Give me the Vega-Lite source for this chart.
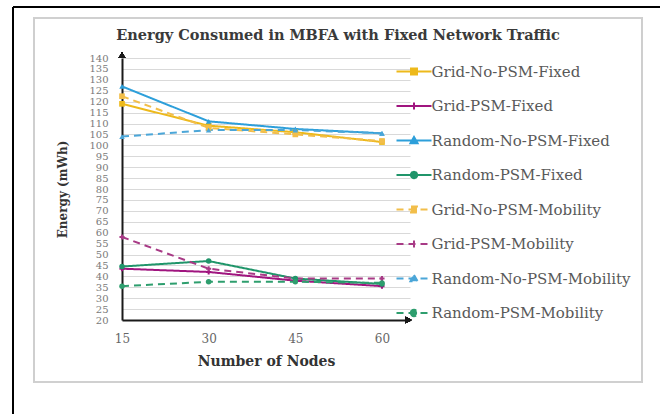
{
  "$schema": "https://vega.github.io/schema/vega-lite/v6.json",
  "width": 288,
  "height": 262,
  "autosize": {"type": "none"},
  "padding": {"left": 122, "top": 58, "right": 250, "bottom": 94},
  "background": "white",
  "config": {
    "view": {"stroke": null},
    "font": "DejaVu Serif",
    "axisX": {
      "titleFont": "DejaVu Serif", "titleFontSize": 14, "titleFontWeight": "bold", "titleColor": "#333333",
      "titlePadding": 10,
      "labelFont": "DejaVu Serif", "labelFontSize": 12, "labelColor": "#666666",
      "labelPadding": 13, "labelFlush": false,
      "ticks": false, "grid": false,
      "domainColor": "#1a1a1a", "domainWidth": 2
    },
    "axisY": {
      "tickCount": 24,
      "titleFont": "DejaVu Serif", "titleFontSize": 12, "titleFontWeight": "bold", "titleColor": "#333333",
      "titlePadding": 19,
      "labelFont": "DejaVu Serif", "labelFontSize": 10, "labelColor": "#7a7a7a",
      "labelPadding": 14, "labelOverlap": false, "labelFlush": false,
      "ticks": false,
      "grid": true, "gridColor": "#d9d9d9", "gridWidth": 1,
      "domainColor": "#1a1a1a", "domainWidth": 2
    },
    "legend": {
      "direction": "vertical",
      "padding": 0,
      "rowPadding": 7.5,
      "labelFont": "DejaVu Serif",
      "labelFontSize": 15,
      "labelColor": "#595959",
      "labelOffset": -1,
      "labelLimit": 300,
      "symbolSize": 1225,
      "symbolStrokeWidth": 2,
      "symbolOpacity": 1
    }
  },
  "title": {
    "text": "Energy Consumed in MBFA with Fixed Network Traffic",
    "font": "DejaVu Serif",
    "fontSize": 14.5,
    "fontWeight": "bold",
    "color": "#3a3a3a",
    "anchor": "middle",
    "frame": "group",
    "dx": 72,
    "offset": -37
  },
  "data": {
    "values": [
      {"series": "Grid-No-PSM-Fixed", "nodes": 15, "energy": 119},
      {"series": "Grid-No-PSM-Fixed", "nodes": 30, "energy": 109},
      {"series": "Grid-No-PSM-Fixed", "nodes": 45, "energy": 106},
      {"series": "Grid-No-PSM-Fixed", "nodes": 60, "energy": 101.5},
      {"series": "Grid-PSM-Fixed", "nodes": 15, "energy": 43.5},
      {"series": "Grid-PSM-Fixed", "nodes": 30, "energy": 42},
      {"series": "Grid-PSM-Fixed", "nodes": 45, "energy": 38},
      {"series": "Grid-PSM-Fixed", "nodes": 60, "energy": 35.5},
      {"series": "Random-No-PSM-Fixed", "nodes": 15, "energy": 127},
      {"series": "Random-No-PSM-Fixed", "nodes": 30, "energy": 111},
      {"series": "Random-No-PSM-Fixed", "nodes": 45, "energy": 107.5},
      {"series": "Random-No-PSM-Fixed", "nodes": 60, "energy": 105.5},
      {"series": "Random-PSM-Fixed", "nodes": 15, "energy": 44.5},
      {"series": "Random-PSM-Fixed", "nodes": 30, "energy": 47},
      {"series": "Random-PSM-Fixed", "nodes": 45, "energy": 39},
      {"series": "Random-PSM-Fixed", "nodes": 60, "energy": 36.5},
      {"series": "Grid-No-PSM-Mobility", "nodes": 15, "energy": 122.5},
      {"series": "Grid-No-PSM-Mobility", "nodes": 30, "energy": 108},
      {"series": "Grid-No-PSM-Mobility", "nodes": 45, "energy": 105},
      {"series": "Grid-No-PSM-Mobility", "nodes": 60, "energy": 102},
      {"series": "Grid-PSM-Mobility", "nodes": 15, "energy": 58},
      {"series": "Grid-PSM-Mobility", "nodes": 30, "energy": 43.5},
      {"series": "Grid-PSM-Mobility", "nodes": 45, "energy": 39},
      {"series": "Grid-PSM-Mobility", "nodes": 60, "energy": 39},
      {"series": "Random-No-PSM-Mobility", "nodes": 15, "energy": 104},
      {"series": "Random-No-PSM-Mobility", "nodes": 30, "energy": 107},
      {"series": "Random-No-PSM-Mobility", "nodes": 45, "energy": 107},
      {"series": "Random-No-PSM-Mobility", "nodes": 60, "energy": 105.5},
      {"series": "Random-PSM-Mobility", "nodes": 15, "energy": 35.5},
      {"series": "Random-PSM-Mobility", "nodes": 30, "energy": 37.5},
      {"series": "Random-PSM-Mobility", "nodes": 45, "energy": 37.5},
      {"series": "Random-PSM-Mobility", "nodes": 60, "energy": 37}
    ]
  },
  "layer": [
    {
      "mark": {"type": "rect", "filled": false, "stroke": "#cfcfcf", "strokeWidth": 1.5},
      "encoding": {
        "x": {"datum": -0.23, "type": "quantitative"},
        "x2": {"datum": 105},
        "y": {"datum": 158.3, "type": "quantitative"},
        "y2": {"datum": -8.4}
      }
    },
    {
      "mark": {"type": "rule", "stroke": "black", "strokeWidth": 1.5},
      "encoding": {
        "x": {"datum": -3.87, "type": "quantitative"},
        "y": {"datum": 163.4, "type": "quantitative"},
        "y2": {"datum": -25}
      }
    },
    {
      "mark": {"type": "rule", "stroke": "black", "strokeWidth": 1.5},
      "encoding": {
        "x": {"datum": -3.87, "type": "quantitative"},
        "x2": {"datum": 110},
        "y": {"datum": 163.4, "type": "quantitative"}
      }
    },
    {
      "mark": {"type": "line", "strokeWidth": 2, "opacity": 1},
      "encoding": {
        "x": {
          "field": "nodes", "type": "quantitative", "title": "Number of Nodes",
          "scale": {"domain": [15, 64.85], "nice": false, "zero": false},
          "axis": {"values": [15, 30, 45, 60]}
        },
        "y": {
          "field": "energy", "type": "quantitative", "title": "Energy (mWh)",
          "scale": {"domain": [20, 140], "nice": false, "zero": false}
        },
        "color": {
          "field": "series", "type": "nominal", "title": null,
          "scale": {
            "domain": ["Grid-No-PSM-Fixed", "Grid-PSM-Fixed", "Random-No-PSM-Fixed", "Random-PSM-Fixed", "Grid-No-PSM-Mobility", "Grid-PSM-Mobility", "Random-No-PSM-Mobility", "Random-PSM-Mobility"],
            "range": ["#EDB91B", "#A0157F", "#2D9FDA", "#20956A", "#F2BE4A", "#A83A86", "#4BA6D8", "#2E9E6E"]
          },
          "legend": {"orient": "none", "legendX": 273.5, "legendY": -5, "title": null}
        },
        "strokeDash": {
          "field": "series", "type": "nominal", "title": null,
          "scale": {
            "domain": ["Grid-No-PSM-Fixed", "Grid-PSM-Fixed", "Random-No-PSM-Fixed", "Random-PSM-Fixed", "Grid-No-PSM-Mobility", "Grid-PSM-Mobility", "Random-No-PSM-Mobility", "Random-PSM-Mobility"],
            "range": [[1, 0], [1, 0], [1, 0], [1, 0], [7, 5], [7, 5], [7, 5], [7, 5]]
          }
        },
        "detail": {"field": "series"}
      }
    },
    {
      "transform": [{"filter": {"field": "series", "oneOf": ["Grid-No-PSM-Fixed", "Grid-No-PSM-Mobility"]}}],
      "mark": {"type": "point", "shape": "square", "filled": true, "size": 32, "opacity": 1},
      "encoding": {
        "x": {"field": "nodes", "type": "quantitative"},
        "y": {"field": "energy", "type": "quantitative"},
        "color": {"field": "series", "type": "nominal", "title": null}
      }
    },
    {
      "transform": [{"filter": {"field": "series", "oneOf": ["Grid-PSM-Fixed", "Grid-PSM-Mobility"]}}],
      "mark": {"type": "point", "shape": "cross", "filled": true, "size": 26, "opacity": 1},
      "encoding": {
        "x": {"field": "nodes", "type": "quantitative"},
        "y": {"field": "energy", "type": "quantitative"},
        "color": {"field": "series", "type": "nominal", "title": null}
      }
    },
    {
      "transform": [{"filter": {"field": "series", "oneOf": ["Random-No-PSM-Fixed", "Random-No-PSM-Mobility"]}}],
      "mark": {"type": "point", "shape": "triangle-up", "filled": true, "size": 30, "opacity": 1},
      "encoding": {
        "x": {"field": "nodes", "type": "quantitative"},
        "y": {"field": "energy", "type": "quantitative"},
        "color": {"field": "series", "type": "nominal", "title": null}
      }
    },
    {
      "transform": [{"filter": {"field": "series", "oneOf": ["Random-PSM-Fixed", "Random-PSM-Mobility"]}}],
      "mark": {"type": "point", "shape": "circle", "filled": true, "size": 30, "opacity": 1},
      "encoding": {
        "x": {"field": "nodes", "type": "quantitative"},
        "y": {"field": "energy", "type": "quantitative"},
        "color": {"field": "series", "type": "nominal", "title": null}
      }
    },
    {
      "mark": {"type": "point", "filled": true, "size": 0, "opacity": 1},
      "encoding": {
        "x": {"field": "nodes", "type": "quantitative"},
        "y": {"field": "energy", "type": "quantitative"},
        "color": {"field": "series", "type": "nominal", "title": null},
        "shape": {
          "field": "series", "type": "nominal", "title": null,
          "scale": {
            "domain": ["Grid-No-PSM-Fixed", "Grid-PSM-Fixed", "Random-No-PSM-Fixed", "Random-PSM-Fixed", "Grid-No-PSM-Mobility", "Grid-PSM-Mobility", "Random-No-PSM-Mobility", "Random-PSM-Mobility"],
            "range": [
              "M-1,0H1M-0.17,-0.17H0.17V0.17H-0.17Z",
              "M-1,0H1M0,-0.2V0.2",
              "M-1,0H1M0,-0.2L0.2,0.15L-0.2,0.15Z",
              "M-1,0H1M-0.18,0A0.18,0.18,0,1,0,0.18,0A0.18,0.18,0,1,0,-0.18,0Z",
              "M-1,0H1M-0.17,-0.17H0.17V0.17H-0.17Z",
              "M-1,0H1M0,-0.2V0.2",
              "M-1,0H1M0,-0.2L0.2,0.15L-0.2,0.15Z",
              "M-1,0H1M-0.18,0A0.18,0.18,0,1,0,0.18,0A0.18,0.18,0,1,0,-0.18,0Z"
            ]
          }
        }
      }
    },
    {
      "mark": {"type": "point", "shape": "triangle-up", "filled": true, "color": "#1a1a1a", "size": 45},
      "encoding": {
        "x": {"datum": 15, "type": "quantitative"},
        "y": {"datum": 141.3, "type": "quantitative"}
      }
    },
    {
      "mark": {"type": "point", "shape": "triangle-right", "filled": true, "color": "#1a1a1a", "size": 45},
      "encoding": {
        "x": {"datum": 64.6, "type": "quantitative"},
        "y": {"datum": 20, "type": "quantitative"}
      }
    }
  ]
}
